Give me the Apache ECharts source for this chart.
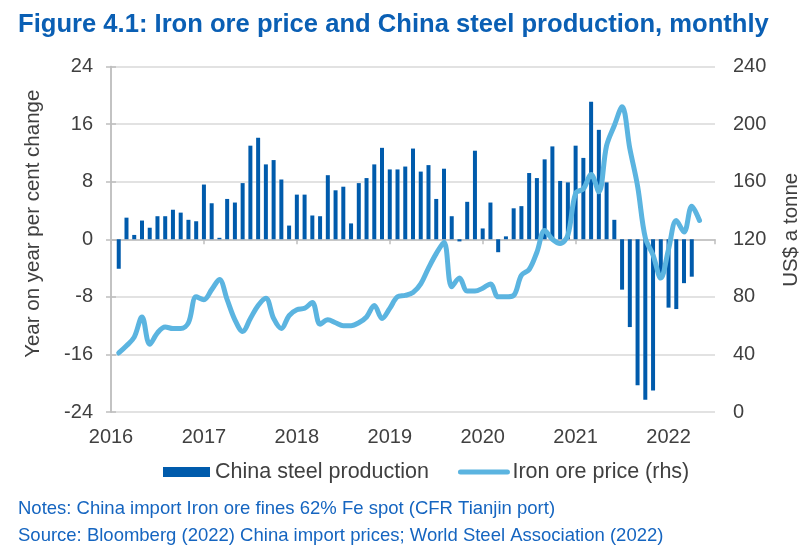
<!DOCTYPE html>
<html>
<head>
<meta charset="utf-8">
<script src="https://cdn.jsdelivr.net/npm/echarts@6/dist/echarts.min.js"></script>
<style>
html,body{margin:0;padding:0;background:#fff;}
#chart{width:810px;height:556px;}
</style>
</head>
<body>
<div id="chart"></div>
<script>
// Month index from Jan 2016 = 0
var yearLabels = ['2016','2017','2018','2019','2020','2021','2022'];
// China steel production, y/y % change, months 1..75
var steelMonths = [];
for (var i = 1; i <= 75; i++) steelMonths.push(i);
var steelValues = [-4.1,3.0,0.6,2.6,1.6,3.2,3.2,4.1,3.7,2.7,2.5,7.6,
  5.0,0.2,5.6,5.1,7.8,13.0,14.1,10.4,11.0,8.3,1.9,6.2,
  6.2,3.3,3.2,8.9,6.8,7.3,2.2,7.8,8.5,10.4,12.7,9.7,
  9.7,10.1,12.6,9.4,10.3,5.6,9.8,3.2,-0.3,5.2,12.3,1.5,
  5.1,-1.8,0.4,4.3,4.6,9.2,8.5,11.1,12.9,8.1,7.9,13.0,
  11.3,19.1,15.2,7.9,2.7,-7.0,-12.2,-20.3,-22.3,-21.0,-5.0,-9.5,
  -9.7,-6.1,-5.2];
// Iron ore price, US$ a tonne, months 1..76
var oreMonths = [];
for (var j = 1; j <= 76; j++) oreMonths.push(j);
var oreValues = [41,46,52,66,47,55,59,58,58,62,80,78,
  85,92,78,64,56,65,74,79,65,58,67,71,
  72,76,61,64,62,60,60,62,66,74,65,72,
  80,81,83,89,100,110,118,87,93,84,84,86,
  89,80,80,81,95,99,111,126,120,117,123,152,
  155,165,153,185,199,212,183,157,121,109,93,113,
  133,125,143,133];

var FONT = "'Liberation Sans', Arial, Helvetica, sans-serif";
var TXT = '#404040';
var AXIS = '#bfbfbf';
var GRID = '#d9d9d9';

var steelData = steelMonths.map(function(m, i){ return [m, steelValues[i]]; });
var oreData = oreMonths.map(function(m, i){ return [m, oreValues[i]]; });

var chart = echarts.init(document.getElementById('chart'), null, {renderer:'canvas'});
chart.setOption({
  animation: false,
  backgroundColor: '#ffffff',
  textStyle: {fontFamily: FONT},
  title: {
    text: 'Figure 4.1: Iron ore price and China steel production, monthly',
    left: 18, top: 12, padding: 0,
    textStyle: {fontFamily: FONT, fontSize: 25.6, fontWeight: 'bold', color: '#0a5fb4'}
  },
  grid: {left: 111, right: 95, top: 66.5, bottom: 144, containLabel: false},
  legend: {
    left: 163, top: 461, padding: 0,
    itemWidth: 47, itemHeight: 10, itemGap: 29,
    textStyle: {fontFamily: FONT, fontSize: 21.5, color: TXT},
    data: [
      {name: 'China steel production', icon: 'rect'},
      {name: 'Iron ore price (rhs)', itemStyle: {opacity: 0}, lineStyle: {width: 5, cap: 'round'}}
    ]
  },
  xAxis: [
    {
      type: 'value', min: 0, max: 78, interval: 12,
      axisLine: {show: true, onZero: true, lineStyle: {color: AXIS, width: 1.5}},
      axisTick: {show: true, length: 5, lineStyle: {color: AXIS, width: 1.5}},
      axisLabel: {show: false},
      splitLine: {show: false}
    },
    {
      type: 'value', min: 0, max: 78, interval: 12, position: 'bottom',
      axisLine: {show: false, onZero: false},
      axisTick: {show: false},
      splitLine: {show: false},
      axisLabel: {
        show: true, margin: 15, fontSize: 20, color: TXT, fontFamily: FONT,
        formatter: function(v){ return (v % 12 === 0) ? yearLabels[v / 12] : ''; }
      }
    }
  ],
  yAxis: [
    {
      type: 'value', min: -24, max: 24, interval: 8, position: 'left',
      name: 'Year on year per cent change', nameLocation: 'middle', nameGap: 67, nameRotate: 90,
      nameTextStyle: {fontFamily: FONT, fontSize: 20.5, color: TXT, padding: [0, 0, 0, 31]},
      axisLine: {show: true, lineStyle: {color: AXIS, width: 1.5}},
      axisTick: {show: true, length: 5, lineStyle: {color: AXIS, width: 1.5}},
      axisLabel: {margin: 18, fontSize: 20, color: TXT, fontFamily: FONT},
      splitLine: {show: true, lineStyle: {color: GRID, width: 1.5}}
    },
    {
      type: 'value', min: 0, max: 240, interval: 40, position: 'right',
      name: 'US$ a tonne', nameLocation: 'middle', nameGap: 66, nameRotate: 90,
      nameTextStyle: {fontFamily: FONT, fontSize: 20.5, color: TXT, padding: [0, 0, 0, 19]},
      axisLine: {show: true, lineStyle: {color: AXIS, width: 1.5}},
      axisTick: {show: true, length: 5, lineStyle: {color: AXIS, width: 1.5}},
      axisLabel: {margin: 18, fontSize: 20, color: TXT, fontFamily: FONT},
      splitLine: {show: false}
    }
  ],
  series: [
    {
      name: 'China steel production', type: 'bar',
      xAxisIndex: 0, yAxisIndex: 0,
      barWidth: 4,
      itemStyle: {color: '#005bac'},
      data: steelData, z: 2
    },
    {
      name: 'Iron ore price (rhs)', type: 'line',
      xAxisIndex: 0, yAxisIndex: 1,
      smooth: 0.35, symbol: 'none', showSymbol: false,
      lineStyle: {color: '#5bb4e0', width: 5, cap: 'round', join: 'round'},
      itemStyle: {color: '#5bb4e0'},
      data: oreData, z: 3
    }
  ],
  graphic: [
    {type: 'text', left: 18, top: 499, style: {text: 'Notes: China import Iron ore fines 62% Fe spot (CFR Tianjin port)', font: '18.5px ' + FONT, fill: '#1565c0'}},
    {type: 'text', left: 18, top: 526, style: {text: 'Source: Bloomberg (2022) China import prices; World Steel Association (2022)', font: '18.5px ' + FONT, fill: '#1565c0'}}
  ]
});
</script>
</body>
</html>
